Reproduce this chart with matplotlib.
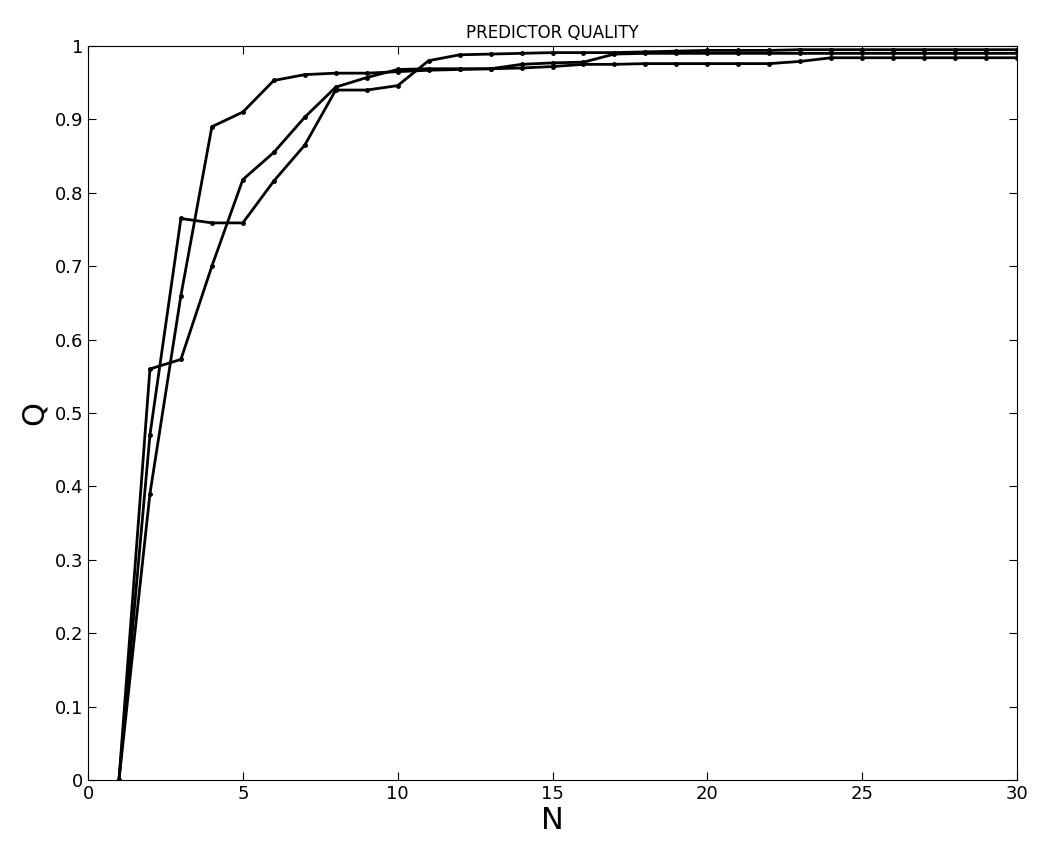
import matplotlib
matplotlib.use("Agg")
import matplotlib.pyplot as plt

N = list(range(1, 31))
qa = [0, 0.39, 0.66, 0.89, 0.91, 0.953, 0.961, 0.963, 0.963, 0.965, 0.967, 0.968, 0.969, 0.975, 0.977, 0.978,
      0.989, 0.990, 0.990, 0.990, 0.990, 0.990, 0.990, 0.990, 0.990, 0.990, 0.990, 0.990, 0.990, 0.990]
qb = [0, 0.47, 0.765, 0.759, 0.759, 0.816, 0.865, 0.94, 0.94, 0.946, 0.98, 0.988, 0.989, 0.990, 0.991, 0.991,
      0.991, 0.992, 0.993, 0.994, 0.994, 0.994, 0.995, 0.995, 0.995, 0.995, 0.995, 0.995, 0.995, 0.995]
qc = [0, 0.56, 0.573, 0.70, 0.818, 0.855, 0.903, 0.944, 0.957, 0.968, 0.969, 0.969, 0.969, 0.970, 0.972, 0.975,
      0.975, 0.976, 0.976, 0.976, 0.976, 0.976, 0.979, 0.984, 0.984, 0.984, 0.984, 0.984, 0.984, 0.984]

fig = plt.figure(figsize=(10.37, 8.52), dpi=100)
ax = fig.add_axes([88/1037, 1-780/852, (1017-88)/1037, (780-46)/852])
for q in (qa, qb, qc):
    ax.plot(N, q, color='black', lw=2, marker='o', ms=2.5)
ax.set_xlim(0, 30)
ax.set_ylim(0, 1)
ax.set_xticks(range(0, 31, 5))
ax.set_yticks([i/10 for i in range(11)])
ax.set_yticklabels(['0'] + [f'{i/10:.1f}' for i in range(1, 10)] + ['1'])
ax.tick_params(direction='in', labelsize=13, right=True, top=True, length=6)
ax.set_xlabel('N', fontsize=22, labelpad=2)
ax.set_ylabel('Q', fontsize=22)
ax.set_title('PREDICTOR QUALITY', fontsize=12)
fig.savefig('out.png')
